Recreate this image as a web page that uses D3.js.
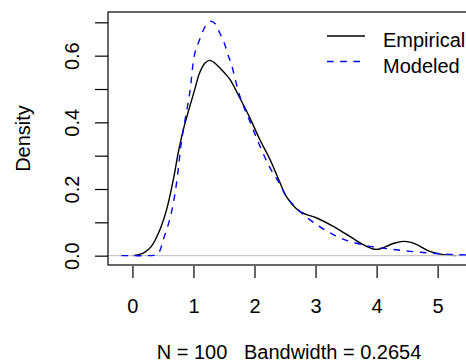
<!DOCTYPE html>
<html>
<head>
<meta charset="utf-8">
<script src="https://cdn.jsdelivr.net/npm/d3@7"></script>
<style>
  body { margin: 0; background: #fff; }
  svg text { font-family: "Liberation Sans", Arial, sans-serif; fill: #000; }
</style>
</head>
<body>
<svg id="drawing_region"></svg>
<script>
// empirical density (black solid)
const empX = [0.00, 0.10, 0.20, 0.31, 0.45, 0.56, 0.67, 0.75, 0.83, 0.94, 1.02, 1.10, 1.19, 1.27, 1.38, 1.51, 1.60,
              1.76, 1.92, 2.09, 2.25, 2.42, 2.52, 2.74, 3.02, 3.29, 3.56, 3.78, 3.94, 4.05, 4.16, 4.30, 4.44, 4.56,
              4.66, 4.87, 5.09, 5.30];
const empY = [0.000, 0.003, 0.010, 0.028, 0.078, 0.138, 0.228, 0.308, 0.375, 0.448, 0.498, 0.548, 0.578, 0.586, 0.573, 0.548, 0.528,
              0.473, 0.415, 0.347, 0.290, 0.218, 0.178, 0.133, 0.113, 0.088, 0.058, 0.033, 0.020, 0.020, 0.028, 0.038, 0.043, 0.040,
              0.033, 0.013, 0.003, 0.000];

// modeled density (blue dashed)
const modX = [-0.18, 0.00, 0.20, 0.35, 0.40, 0.45, 0.50, 0.61, 0.69, 0.75, 0.80, 0.86, 0.94, 1.02, 1.10, 1.20, 1.28, 1.36,
              1.43, 1.50, 1.57, 1.62, 1.76, 1.92, 2.09, 2.25, 2.42, 2.52, 2.74, 3.02, 3.29, 3.56, 3.89, 4.22, 4.55,
              4.87, 5.20, 5.53];
const modY = [0.000, 0.000, 0.000, 0.001, 0.003, 0.015, 0.045, 0.108, 0.178, 0.258, 0.338, 0.405, 0.490, 0.605, 0.648, 0.690, 0.703, 0.695,
              0.668, 0.640, 0.600, 0.575, 0.478, 0.405, 0.328, 0.265, 0.213, 0.178, 0.133, 0.093, 0.063, 0.043, 0.028, 0.020, 0.013,
              0.008, 0.004, 0.002];

const xTicks = [0, 1, 2, 3, 4, 5];
const yTicks = [0, 0.1, 0.2, 0.3, 0.4, 0.5, 0.6, 0.7];
const yLabelled = [0, 0.2, 0.4, 0.6];
const legendNames = ['Empirical', 'Modeled'];
const yTitle = 'Density';
const subTitle = 'N = 100   Bandwidth = 0.2654';

class DensityPlot {

    constructor(config) {
        this.config = config;
        this.init();
    }

    init() {
        let self = this;

        self.svg = d3.select(self.config.parent)
            .attr('width', self.config.width)
            .attr('height', self.config.height);

        self.left = self.config.margin.left;
        self.right = self.config.plotRight;
        self.top = self.config.margin.top;
        self.bottom = self.config.plotBottom;

        self.xscale = d3.scaleLinear()
            .domain([-0.40, 5.53])
            .range([self.left, self.right]);

        self.yscale = d3.scaleLinear()
            .domain([-0.028, 0.731])
            .range([self.bottom, self.top]);

        self.line = d3.line()
            .x(d => self.xscale(d[0]))
            .y(d => self.yscale(d[1]))
            .curve(d3.curveCatmullRom);
    }

    render() {
        let self = this;
        const empirical = empX.map((x, i) => [x, empY[i]]);
        const modeled = modX.map((x, i) => [x, modY[i]]);

        self.svg.append('path')
            .datum(empirical)
            .attr('d', self.line)
            .attr('fill', 'none')
            .attr('stroke', '#000')
            .attr('stroke-width', 1.4);

        // zero line
        self.svg.append('line')
            .attr('x1', self.left).attr('x2', self.right)
            .attr('y1', self.yscale(0)).attr('y2', self.yscale(0))
            .attr('stroke', '#bebebe')
            .attr('stroke-width', 1);

        self.svg.append('path')
            .datum(modeled)
            .attr('d', self.line)
            .attr('fill', 'none')
            .attr('stroke', '#0000ff')
            .attr('stroke-width', 1.4)
            .attr('stroke-dasharray', '6.6,6.6');

        // box
        self.svg.append('rect')
            .attr('x', self.left).attr('y', self.top)
            .attr('width', self.right - self.left)
            .attr('height', self.bottom - self.top)
            .attr('fill', 'none')
            .attr('stroke', '#000')
            .attr('stroke-width', 1.2);

        const xaxis = d3.axisBottom(self.xscale)
            .tickValues(xTicks)
            .tickFormat(d3.format('d'))
            .tickSize(12)
            .tickPadding(21);

        const xg = self.svg.append('g')
            .attr('transform', `translate(0, ${self.bottom + 1})`)
            .call(xaxis);
        xg.select('.domain').remove();
        xg.selectAll('line').attr('stroke-width', 1.2);
        xg.selectAll('text').attr('font-size', 20).attr('font-family', null);

        const yaxis = d3.axisLeft(self.yscale)
            .tickValues(yTicks)
            .tickFormat(d => yLabelled.includes(d) ? d3.format('.1f')(d) : '')
            .tickSize(13);

        const yg = self.svg.append('g')
            .attr('transform', `translate(${self.left}, 0)`)
            .call(yaxis);
        yg.select('.domain').remove();
        yg.selectAll('line').attr('stroke-width', 1.2);
        yg.selectAll('text')
            .attr('font-size', 20)
            .attr('font-family', null)
            .attr('text-anchor', 'middle')
            .attr('transform', 'rotate(-90)')
            .attr('x', 0)
            .attr('y', -29)
            .attr('dy', null);

        self.svg.append('text')
            .attr('transform', `translate(29.5, ${(self.top + self.bottom) / 2}) rotate(-90)`)
            .attr('text-anchor', 'middle')
            .attr('font-size', 20)
            .text(yTitle);

        self.svg.append('text')
            .attr('x', (self.left + self.right) / 2)
            .attr('y', 359)
            .attr('text-anchor', 'middle')
            .attr('font-size', 20)
            .style('white-space', 'pre')
            .text(subTitle);

        // legend
        const legend = self.svg.append('g')
            .attr('transform', 'translate(327, 36)');
        legendNames.forEach((name, i) => {
            legend.append('line')
                .attr('x1', 0).attr('x2', 38)
                .attr('y1', i * 25.5).attr('y2', i * 25.5)
                .attr('stroke', i == 0 ? '#000' : '#0000ff')
                .attr('stroke-width', 1.4)
                .attr('stroke-dasharray', i == 0 ? null : '6.6,6.6');
            legend.append('text')
                .attr('x', 56)
                .attr('y', i * 25.5 + 11)
                .attr('font-size', 20)
                .text(name);
        });
    }
}

const plot = new DensityPlot({
    parent: '#drawing_region',
    width: 466,
    height: 363,
    margin: {top: 12, left: 108},
    plotRight: 470,
    plotBottom: 265
});
plot.render();
</script>
</body>
</html>
